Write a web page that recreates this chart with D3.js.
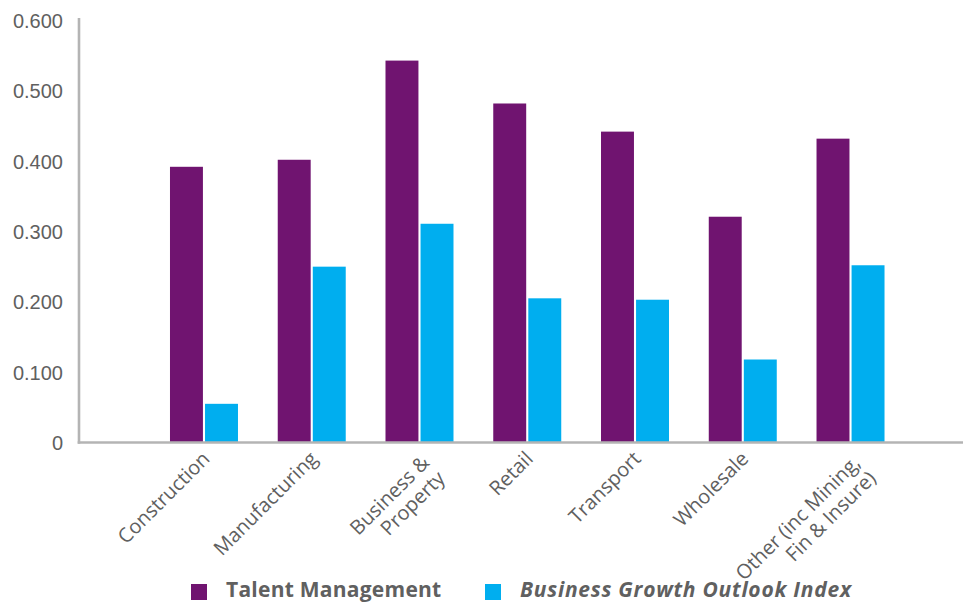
<!DOCTYPE html>
<html>
<head>
<meta charset="utf-8">
<script src="https://cdn.jsdelivr.net/npm/d3@7"></script>
<style>
  html, body { margin: 0; padding: 0; background: #fff; }
  svg { display: block; font-family: "Open Sans", "Noto Sans", sans-serif; }
</style>
</head>
<body>
<svg id="chart" width="971" height="603"></svg>
<script>
// Sector scores
const categories = [
  ["Construction"],
  ["Manufacturing"],
  ["Business &", "Property"],
  ["Retail"],
  ["Transport"],
  ["Wholesale"],
  ["Other (inc Mining,", "Fin & Insure)"]
];
const seriesNames = ["Talent Management", "Business Growth Outlook Index"];
const talentManagement = [0.392, 0.402, 0.543, 0.482, 0.442, 0.321, 0.432];
const growthOutlook    = [0.055, 0.250, 0.311, 0.205, 0.203, 0.118, 0.252];
const yTicks = [0, 0.1, 0.2, 0.3, 0.4, 0.5, 0.6];
const yTickLabels = ["0", "0.100", "0.200", "0.300", "0.400", "0.500", "0.600"];

const colors = ["#701470", "#00AEEF"];
const textColor = "#606060";
const axisColor = "#b4b4b4";

const svg = d3.select("#chart");

const keys = categories.map(c => c.join(" "));
const seriesValues = [talentManagement, growthOutlook];

const y = d3.scaleLinear().domain([0, 0.6]).range([442.5, 20.5]);

const x0 = d3.scaleBand()
  .domain(keys)
  .range([150.1, 904.4])
  .paddingInner(0.369)
  .paddingOuter(0.1845);

const x1 = d3.scaleBand()
  .domain(d3.range(seriesNames.length))
  .range([0, x0.bandwidth()])
  .paddingInner(0.06);

// Bars
const groups = svg.append("g").selectAll("g")
  .data(keys)
  .join("g")
  .attr("transform", d => `translate(${x0(d)},0)`);

groups.selectAll("rect")
  .data((d, i) => seriesValues.map((vals, s) => ({ s, v: vals[i] })))
  .join("rect")
  .attr("x", d => x1(d.s))
  .attr("width", x1.bandwidth())
  .attr("y", d => y(d.v))
  .attr("height", d => y(0) - y(d.v))
  .attr("fill", d => colors[d.s]);

// Y axis
const yAxis = d3.axisLeft(y)
  .tickValues(yTicks)
  .tickFormat((d, i) => yTickLabels[i])
  .tickSize(0)
  .tickPadding(16);

const yG = svg.append("g")
  .attr("transform", "translate(79,0)")
  .call(yAxis);
yG.select(".domain").remove();
yG.selectAll("text")
  .attr("fill", textColor)
  .style("font-size", "20px")
  .attr("dy", "0.35em");

svg.append("line")
  .attr("x1", 79).attr("x2", 79)
  .attr("y1", 18).attr("y2", y(0) + 1.2)
  .attr("stroke", axisColor).attr("stroke-width", 2.6);

// X axis line
svg.append("line")
  .attr("x1", 77.7).attr("x2", 963)
  .attr("y1", y(0)).attr("y2", y(0))
  .attr("stroke", axisColor).attr("stroke-width", 2.6);

// Category labels, rotated
const lineH = 22;
const labels = svg.append("g").selectAll("text")
  .data(categories)
  .join("text")
  .attr("text-anchor", "end")
  .attr("fill", textColor)
  .style("font-size", "20px")
  .attr("transform", (d, i) => {
    const cx = x0(keys[i]) + x0.bandwidth() / 2;
    const shift = d.length > 1 ? 4 : 0;
    return `translate(${cx + 7 + shift},${460 + shift}) rotate(-45)`;
  });

labels.selectAll("tspan")
  .data(d => d)
  .join("tspan")
  .attr("x", 0)
  .attr("y", (d, i) => i * lineH)
  .text(d => d);

// Legend
const legend = [
  { name: seriesNames[0], color: colors[0], sx: 191, tx: 226, italic: false },
  { name: seriesNames[1], color: colors[1], sx: 485, tx: 520, italic: true }
];
const lg = svg.append("g");
lg.selectAll("rect")
  .data(legend)
  .join("rect")
  .attr("x", d => d.sx).attr("y", 584)
  .attr("width", 16).attr("height", 16)
  .attr("fill", d => d.color);
lg.selectAll("text")
  .data(legend)
  .join("text")
  .attr("x", d => d.tx).attr("y", 597)
  .attr("fill", textColor)
  .style("font-size", "21px")
  .style("font-weight", 700)
  .style("font-style", d => d.italic ? "italic" : "normal")
  .style("letter-spacing", d => d.italic ? "0.75px" : "0.25px")
  .text(d => d.name);
</script>
</body>
</html>
